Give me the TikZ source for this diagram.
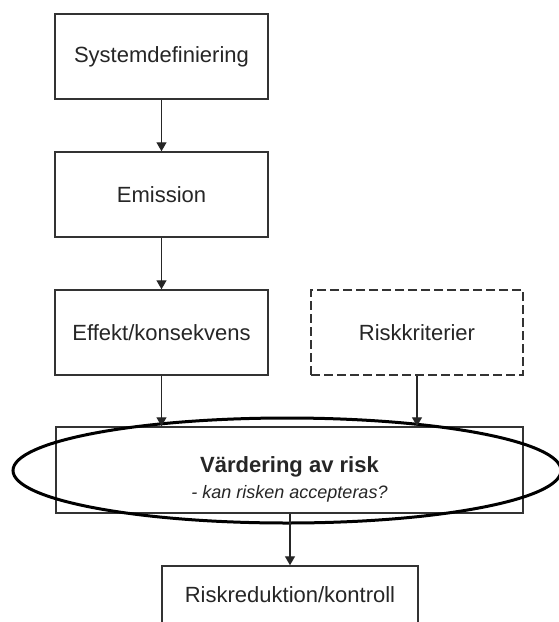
\documentclass[tikz,border=0pt]{standalone}
\usepackage{fontspec}
\setmainfont{Liberation Sans}
\usetikzlibrary{arrows.meta,shapes.geometric}

\tikzset{
  stepbox/.style={draw=black!80, line width=1.5pt, minimum width=213pt,
    minimum height=85pt, inner sep=0pt, font=\fontsize{22}{26}\selectfont,
    text=black!85},
  dashbox/.style={stepbox, dash pattern=on 9pt off 4pt},
  flow/.style={draw=black!85, line width=1.4pt,
    -{Triangle[width=10pt,length=9pt]}},
  oval/.style={ellipse, draw=black, line width=3pt, inner sep=0pt},
}

\begin{document}
\begin{tikzpicture}[x=1pt, y=-1pt]
  \clip (0,0) rectangle (559,622);
  \fill[white] (0,0) rectangle (559,622);

  % main chain
  \node[stepbox] (sys)  at (161.5, 56.5)  {Systemdefiniering};
  \node[stepbox] (emis) at (161.5, 194.5) {Emission};
  \node[stepbox] (eff)  at (161.5, 332.5) {Effekt/konsekvens};
  \node[dashbox, minimum width=212pt] (krit) at (417, 332.5) {Riskkriterier};

  % evaluation step: box with an ellipse laid over it
  \node[stepbox, minimum width=467pt, minimum height=86pt] (vard) at (289.5, 470) {};
  \node[oval, minimum width=548pt, minimum height=105pt] (ring) at (287, 470.5) {};
  \node[align=center, text=black!85, font=\fontsize{22}{22}\selectfont]
    (vardtxt) at (289.5, 479)
    {\bfseries Värdering av risk\\[4pt]
     {\fontsize{18}{20}\selectfont\itshape - kan risken accepteras?}};

  \node[stepbox, minimum width=256pt, minimum height=58pt] (red) at (290, 595)
    {Riskreduktion/kontroll};

  % connectors
  \draw[flow] (sys.south) -- (emis.north);
  \draw[flow] (emis.south) -- (eff.north);
  \draw[flow] (eff.south) -- (eff.south |- vard.north);
  \draw[flow] (krit.south) -- (krit.south |- vard.north);
  \draw[flow] (red.north |- vard.south) -- (red.north);
\end{tikzpicture}
\end{document}
